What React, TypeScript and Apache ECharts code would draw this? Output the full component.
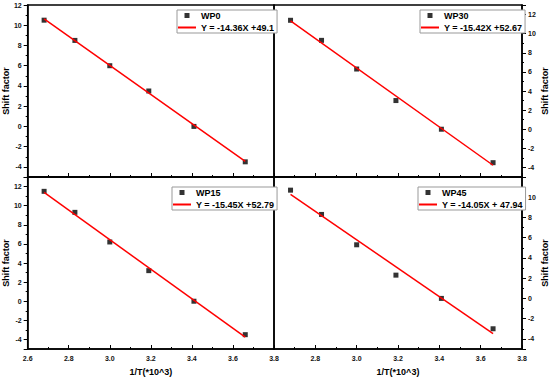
import React, { useEffect, useRef } from 'react';
import * as echarts from 'echarts';

// x values: 1/T (*10^3)
const invT = [2.68, 2.83, 3.0, 3.19, 3.41, 3.66];
// shift factors per sample
const wp0 = [10.5, 8.5, 6.0, 3.5, 0.0, -3.5];
const wp30 = [11.4, 9.3, 6.3, 3.0, 0.0, -3.5];
const wp15 = [11.5, 9.3, 6.2, 3.2, 0.0, -3.5];
const wp45 = [10.7, 8.3, 5.3, 2.3, 0.0, -3.0];

const panelNames = ['WP0', 'WP30', 'WP15', 'WP45'];
const fitLabels = [
  'Y = -14.36X +49.1',
  'Y = -15.42X +52.67',
  'Y = -15.45X +52.79',
  'Y = -14.05X + 47.94',
];
// fitted line end points (x at first and last sample)
const fitX = [2.68, 3.66];
const fit0 = [10.62, -3.46];
const fit30 = [11.34, -3.77];
const fit15 = [11.38, -3.76];
const fit45 = [10.29, -3.48];

// axis ranges
const xMin = 2.6;
const xMax = 3.8;
const xStep = 0.2;
const yMins = [-5, -5, -5, -5];
const yMaxs = [12, 13, 13, 12];
const ySplits = [8, 9, 9, 8];

const FONT = '"Liberation Sans", Arial, Helvetica, sans-serif';

export default function App() {
  const ref = useRef<HTMLDivElement>(null);
  useEffect(() => {
    const chart = echarts.init(ref.current!, null, { renderer: 'svg' });
    const values = [wp0, wp30, wp15, wp45];
    const fits = [fit0, fit30, fit15, fit45];
    const layout = [
      { left: 25, top: 5, side: 'left', bottom: false },
      { left: 274, top: 5, side: 'right', bottom: false },
      { left: 25, top: 177, side: 'left', bottom: true },
      { left: 274, top: 177, side: 'right', bottom: true },
    ];
    const legendPos = [
      [177, 10],
      [420, 10],
      [172, 187],
      [418, 187],
    ];
    const W = 249;
    const H = 172;
    const labelStyle = { fontSize: 7, fontWeight: 'bold', color: '#111', fontFamily: FONT };
    const nameStyle = { fontSize: 9, fontWeight: 'bold', color: '#000', fontFamily: FONT };

    const grid = layout.map((l) => ({
      left: l.left,
      top: l.top,
      width: W,
      height: H,
      show: true,
      borderColor: '#000',
      borderWidth: 1.5,
      backgroundColor: 'transparent',
    }));

    const xAxis = layout.map((l, i) => ({
      gridIndex: i,
      type: 'value',
      min: xMin,
      max: xMax,
      interval: xStep,
      axisLine: { show: true, onZero: false, lineStyle: { color: '#000', width: 1.5 } },
      axisTick: { show: true, inside: true, length: 4, lineStyle: { color: '#000', width: 1 } },
      minorTick: { show: true, splitNumber: 2, length: 2, lineStyle: { color: '#000', width: 1 } },
      splitLine: { show: false },
      axisLabel: {
        show: l.bottom,
        margin: 6,
        ...labelStyle,
        formatter: (v: number) => v.toFixed(1),
        showMinLabel: i !== 3,
        showMaxLabel: true,
      },
      name: l.bottom ? '1/T(*10^3)' : '',
      nameLocation: 'middle',
      nameGap: 18,
      nameTextStyle: nameStyle,
    }));

    const yAxis = layout.map((l, i) => ({
      gridIndex: i,
      type: 'value',
      position: l.side,
      min: yMins[i],
      max: yMaxs[i],
      splitNumber: ySplits[i],
      axisLine: { show: true, onZero: false, lineStyle: { color: '#000', width: 1.5 } },
      axisTick: { show: true, inside: false, length: 4, lineStyle: { color: '#000', width: 1 } },
      minorTick: { show: true, splitNumber: 2, length: 2, lineStyle: { color: '#000', width: 1 } },
      splitLine: { show: false },
      axisLabel: {
        margin: 6,
        ...labelStyle,
        formatter: (v: number) => String(Math.round(v)),
        showMinLabel: false,
        showMaxLabel: i === 0,
      },
      name: 'Shift factor',
      nameLocation: 'middle',
      nameGap: l.side === 'left' ? 15 : 18,
      nameTextStyle: nameStyle,
    }));

    const series: any[] = [];
    values.forEach((vals, i) => {
      series.push({
        type: 'scatter',
        name: panelNames[i],
        xAxisIndex: i,
        yAxisIndex: i,
        data: invT.map((x, j) => [x, vals[j]]),
        symbol: 'rect',
        symbolSize: 5,
        itemStyle: { color: '#000' },
        z: 2,
      });
      series.push({
        type: 'line',
        name: fitLabels[i],
        xAxisIndex: i,
        yAxisIndex: i,
        data: fitX.map((x, j) => [x, fits[i][j]]),
        symbol: 'none',
        lineStyle: { color: '#ff0000', width: 1.5 },
        itemStyle: { color: '#ff0000' },
        z: 3,
      });
    });

    const legend = legendPos.map((p, i) => ({
      show: true,
      orient: 'vertical',
      left: p[0],
      top: p[1],
      data: [
        {
          name: panelNames[i],
          icon: 'path://M0,0L10,0L10,10L0,10Z',
          itemStyle: { color: '#000', borderWidth: 0 },
        },
        {
          name: fitLabels[i],
          icon: 'path://M0,0L36,0L36,4L0,4Z',
          itemStyle: { color: '#ff0000', borderWidth: 0 },
        },
      ],
      itemWidth: 18,
      itemHeight: 5,
      itemGap: 1,
      symbolKeepAspect: true,
      padding: [0, 3, 0, 1],
      borderColor: '#999',
      borderWidth: 1,
      borderRadius: 0,
      backgroundColor: '#fff',
      selectedMode: false,
      textStyle: { fontSize: 9, fontWeight: 'bold', color: '#000', fontFamily: FONT, lineHeight: 11 },
    }));

    chart.setOption({
      animation: false,
      backgroundColor: '#fff',
      grid,
      xAxis,
      yAxis,
      legend,
      series,
    });
    return () => chart.dispose();
  }, []);
  return (
    <div
      ref={ref}
      style={{ position: 'absolute', left: 0, top: 0, width: 550, height: 380, background: '#fff' }}
    />
  );
}
